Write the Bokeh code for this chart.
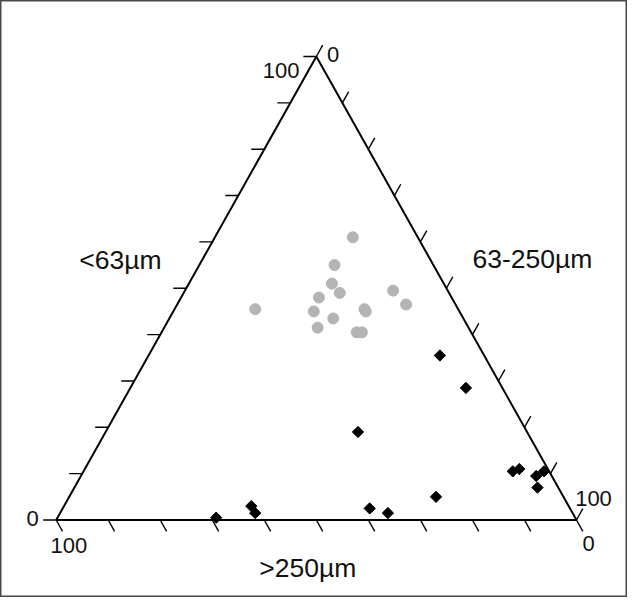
import numpy as np
from bokeh.plotting import figure
from bokeh.models import Range1d
from bokeh.embed import file_html
from bokeh.resources import INLINE
from bokeh.core.properties import value

# ---- data (percentages): <63µm, 63-250µm, >250µm ----
gray_fine   = [61, 55, 51, 49, 48, 45.5, 45, 45.5, 45, 43.5, 41.5, 40.5, 40.5, 49.5, 46.5]
gray_medium = [26.5, 26, 27.5, 30, 26.5, 15.5, 27, 36.5, 37, 31.5, 29.5, 37.5, 38.5, 40, 44]
gray_coarse = [12.5, 19, 21.5, 21, 25.5, 39, 28, 18, 18, 25, 29, 22, 21, 10.5, 9.5]

black_fine   = [35.5, 28.5, 19, 10.5, 11, 9.5, 10.5, 7, 5, 2.5, 1.5, 3, 1.5, 0.5]
black_medium = [56, 64.5, 48.5, 82.5, 83.5, 87.5, 88.5, 89, 70.5, 59, 63, 36, 37.5, 30.5]
black_coarse = [8.5, 7, 32.5, 7, 5.5, 3, 1, 4, 24.5, 38.5, 35.5, 61, 61, 69]

tick_values = list(range(0, 101, 10))
end_labels = ["0", "100"]
axis_titles = ["<63µm", "63-250µm", ">250µm"]

# ---- layout ----
W, H_PX = 627, 597
SX, SY = 5.203, 5.352          # px per data unit
HT = 100 * np.sqrt(3) / 2      # apex height in data units
X0 = -10.705                   # data x at frame left
Y_TOP = 97.07                  # data y at frame top
Y0 = Y_TOP - H_PX / SY
FONT = value("Liberation Sans")


def tern(fine, medium):
    f, m = np.broadcast_arrays(np.asarray(fine, float), np.asarray(medium, float))
    return m + f / 2.0, f * HT / 100.0


def off(x, y, dx, dy):
    """shift data point by screen pixels (dx right, dy down)"""
    return float(x + dx / SX), float(y - dy / SY)


p = figure(width=W, height=H_PX, output_backend="svg", toolbar_location=None,
           x_axis_type=None, y_axis_type=None, min_border=0,
           x_range=Range1d(X0, X0 + W / SX), y_range=Range1d(Y0, Y_TOP))
p.grid.visible = False
p.outline_line_color = "#4a4a4a"
p.outline_line_width = 2
p.background_fill_color = "white"
p.border_fill_color = "white"

# triangle
BLx, BLy = tern(0, 0)
BRx, BRy = tern(0, 100)
Tx, Ty = tern(100, 0)
BLx, BLy, BRx, BRy, Tx, Ty = map(float, (BLx, BLy, BRx, BRy, Tx, Ty))
p.line(x=[BLx, BRx, Tx, BLx], y=[BLy, BRy, Ty, BLy], line_color="black", line_width=2)


def unit_px(dxd, dyd):
    vx, vy = dxd * SX, dyd * SY
    n = np.hypot(vx, vy)
    return vx / n, vy / n


TL = 13.0
t = np.array(tick_values, float)
# left axis (<63µm): horizontal ticks pointing left
lx, ly = tern(t, 0)
# right axis (63-250µm): ticks parallel to left edge, pointing up-right
rx, ry = tern(100 - t, t)
ux, uy = unit_px(Tx - BLx, Ty - BLy)
# bottom axis (>250µm): ticks parallel to right edge, pointing down-right
bx, by = tern(0, 100 - t)
vx, vy = unit_px(BRx - Tx, BRy - Ty)

x0 = np.concatenate([lx, rx, bx])
y0 = np.concatenate([ly, ry, by])
x1 = np.concatenate([lx - TL / SX, rx + TL * ux / SX, bx + TL * vx / SX])
y1 = np.concatenate([ly, ry + TL * uy / SY, by + TL * vy / SY])
p.segment(x0=x0, y0=y0, x1=x1, y1=y1, line_color="black", line_width=1.4)

# data points
gx, gy = tern(gray_fine, gray_medium)
p.scatter(x=gx, y=gy, marker="circle", size=11, fill_color="#b4b4b4",
          line_color="#b4b4b4", line_width=1)
kx, ky = tern(black_fine, black_medium)
p.scatter(x=kx, y=ky, marker="square", angle=np.pi / 4, size=8,
          fill_color="black", line_color="black", line_width=1)

# tick end labels
lab_pos = [
    off(BLx, BLy, -23.7, -1.5),   # left 0
    off(Tx, Ty, -35.3, 14),       # left 100
    off(Tx, Ty, 16.7, -2),        # right 0
    off(BRx, BRy, 17, -21.2),     # right 100
    off(BLx, BLy, 12.6, 25.5),    # bottom 100
    off(BRx, BRy, 12, 23),        # bottom 0
]
lab_txt = [end_labels[0], end_labels[1], end_labels[0], end_labels[1],
           end_labels[1], end_labels[0]]
p.text(x=[q[0] for q in lab_pos], y=[q[1] for q in lab_pos], text=lab_txt,
       text_font=FONT, text_font_size="22px", text_color="#111111",
       text_align="center", text_baseline="middle")

# axis titles
mlx, mly = tern(50, 0)
mrx, mry = tern(50, 50)
mbx, mby = tern(0, 50)
tpos = [off(mlx, mly, -65.9, -28.3), off(mrx, mry, 86, -29.3), off(mbx, mby, -8.5, 47.5)]
p.text(x=[q[0] for q in tpos], y=[q[1] for q in tpos], text=axis_titles,
       text_font=FONT, text_font_size="26.5px", text_color="#111111",
       text_align="center", text_baseline="middle")

open("out.html", "w").write(file_html(p, INLINE))
